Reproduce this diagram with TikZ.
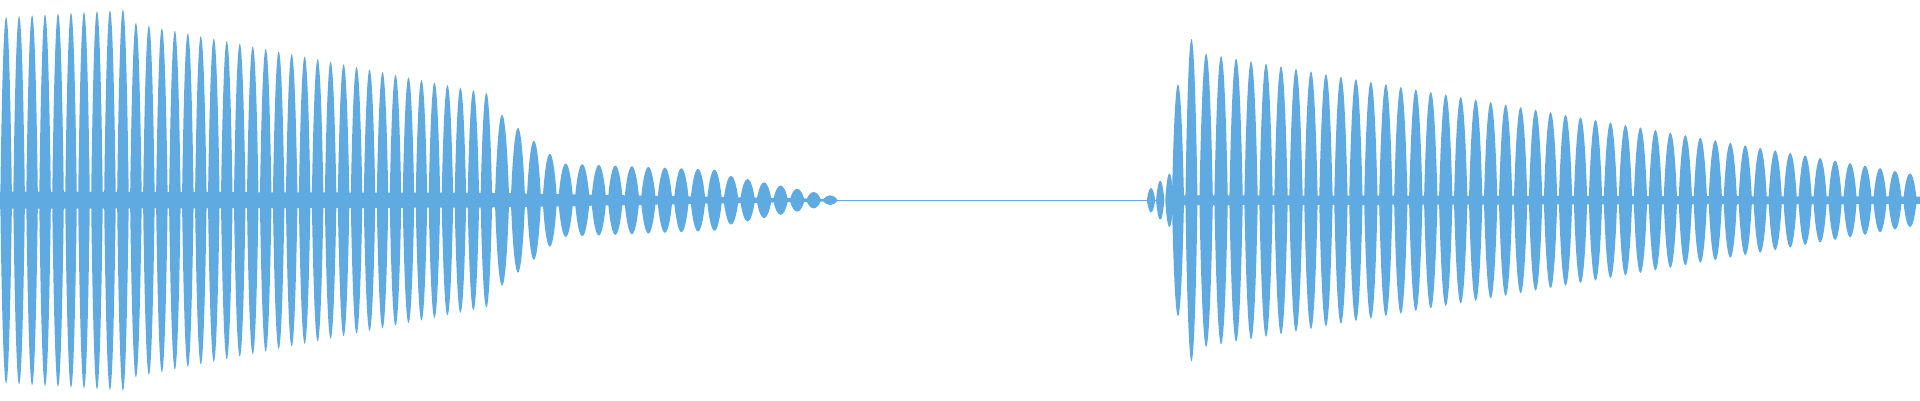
\documentclass[tikz,border=0pt]{standalone}
\definecolor{wave}{RGB}{95,170,225}
\begin{document}
\begin{tikzpicture}[x=1pt,y=1pt]
\useasboundingbox (0,0) rectangle (1568,327);
\begin{scope}[yshift=163.5pt]
\foreach \xs/\dx/\n/\aa/\ab in {5/10.6/10/150/156, 111/10.6/28/145/88, 410/13/4/70/38, 462/13.5/10/30/25, 597/13.5/7/20/4, 940/7.5/3/10/22, 962/11/2/95/132, 985/12.23/48/120/22}{
  \pgfmathtruncatemacro\last{\n-1}
  \foreach \k in {0,...,\last}{
    \pgfmathsetmacro\x{\xs+\k*\dx}
    \pgfmathsetmacro\a{\aa+(\ab-\aa)*\k/max(\n-1,1)}
    \pgfmathsetmacro\w{0.45*\dx}
    \fill[wave] (\x-\w,0) .. controls (\x-0.45*\w,1.33*\a) and (\x+0.45*\w,1.33*\a) .. (\x+\w,0)
      .. controls (\x+0.45*\w,-1.33*\a) and (\x-0.45*\w,-1.33*\a) .. cycle;
  }
}
\fill[wave] (0,-7) -- (400,-6) -- (680,-1) -- (680,1) -- (400,6) -- (0,7) -- cycle;
\fill[wave] (960,-4) -- (1568,-3) -- (1568,3) -- (960,4) -- cycle;
\draw[wave,line width=0.7pt] (675,0) -- (945,0);
\end{scope}
\end{tikzpicture}
\end{document}
